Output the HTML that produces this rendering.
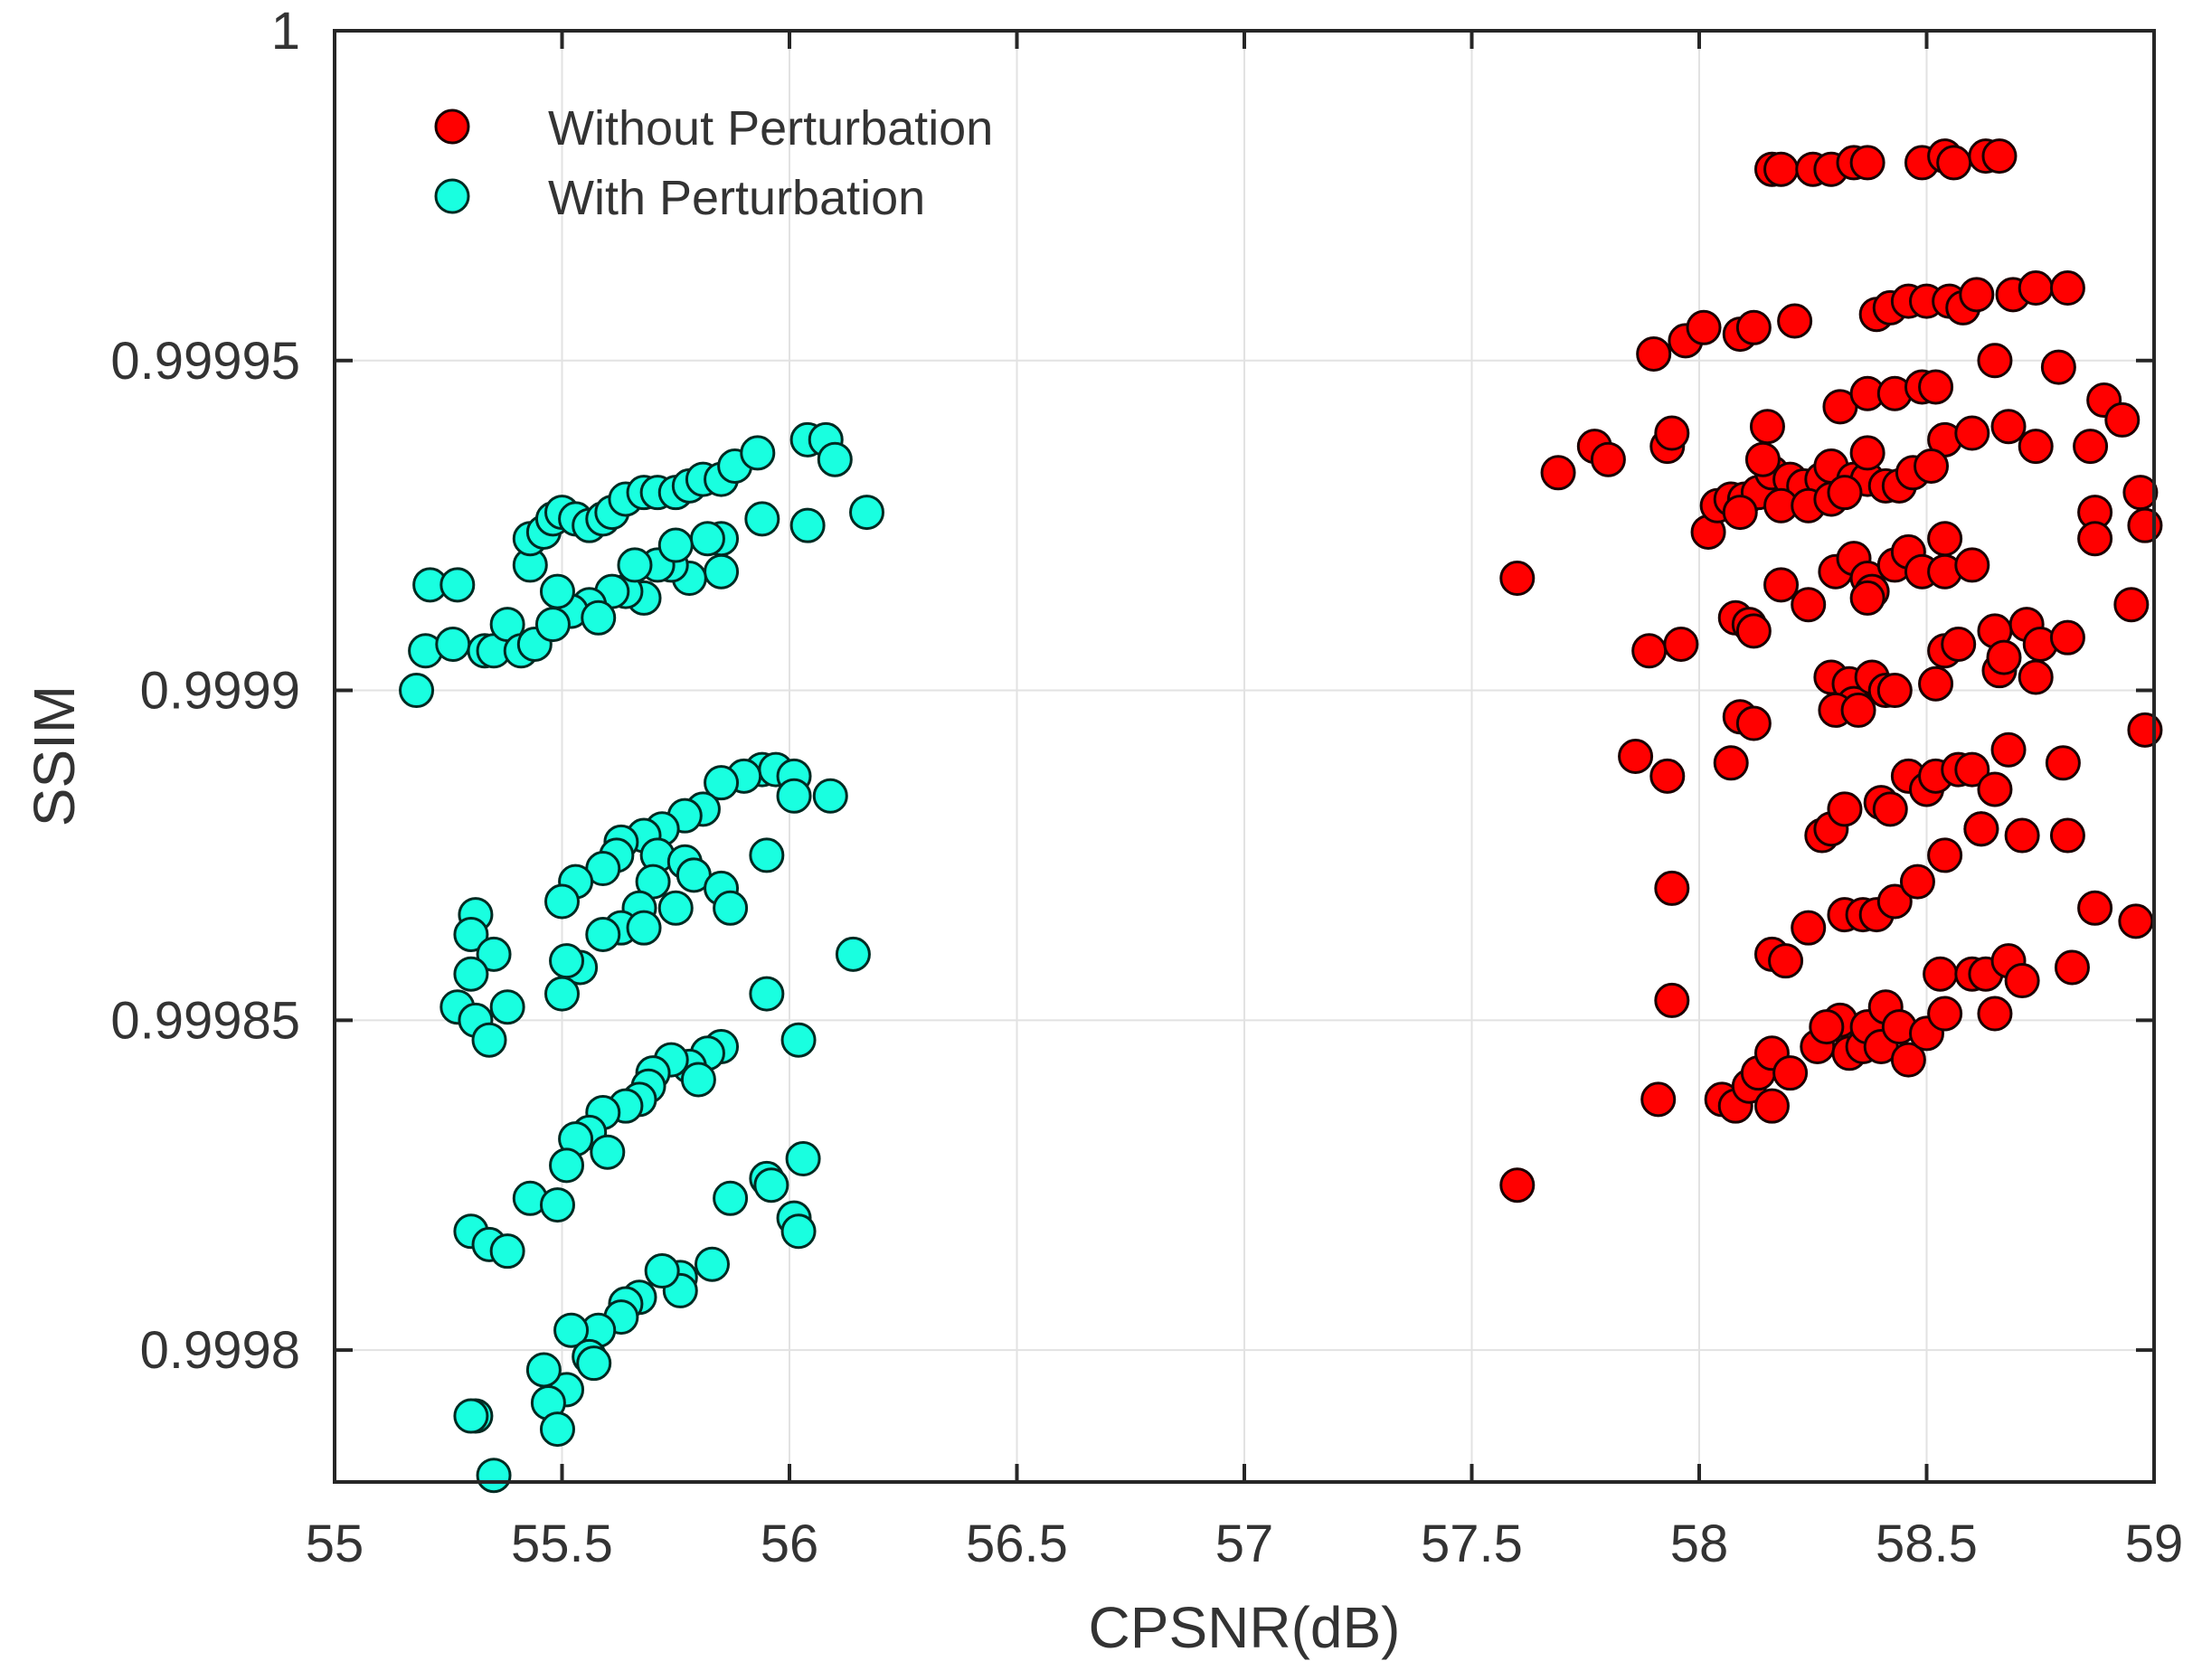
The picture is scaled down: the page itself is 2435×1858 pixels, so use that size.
<!DOCTYPE html>
<html><head><meta charset="utf-8"><style>
html,body{margin:0;padding:0;background:#fff;}
svg{display:block;font-family:"Liberation Sans",Arial,sans-serif;}
</style></head><body>
<svg id="chart" width="2435" height="1858" viewBox="0 0 2435 1858">
<g id="grid"></g>
<g id="ticks"></g>
<g id="pts"></g>
<rect x="370" y="34" width="2012" height="1605" fill="none" stroke="#262626" stroke-width="4"/>
<text x="1376" y="1822" font-size="64" fill="#333" text-anchor="middle">CPSNR(dB)</text>
<text transform="translate(82,836) rotate(-90)" font-size="64" fill="#333" text-anchor="middle">SSIM</text>
<g>
<circle cx="500" cy="140" r="18" fill="#ff0000" stroke="#1a0000" stroke-width="3"/>
<text x="606" y="160" font-size="54" fill="#333">Without Perturbation</text>
<circle cx="500" cy="217" r="18" fill="#19ffe0" stroke="#002a22" stroke-width="3"/>
<text x="606" y="237" font-size="54" fill="#333">With Perturbation</text>
</g>
</svg>
<script>
const xTicks=[55,55.5,56,56.5,57,57.5,58,58.5,59];
const xTickLabels=["55","55.5","56","56.5","57","57.5","58","58.5","59"];
const yTicks=[0.9998,0.99985,0.9999,0.99995,1];
const yTickLabels=["0.9998","0.99985","0.9999","0.99995","1"];
const cyanX=[55.18,55.21,55.27,55.20,55.26,55.33,55.35,55.38,55.41,55.44,55.43,55.43,55.46,55.48,55.50,55.53,55.56,55.59,55.61,55.64,55.68,55.71,55.75,55.78,55.81,55.85,55.88,55.93,56.04,56.08,56.10,56.17,56.04,55.94,55.85,55.82,55.85,55.78,55.74,55.71,55.68,55.64,55.61,55.56,55.52,55.49,55.48,55.58,55.66,55.75,
55.94,55.97,56.01,56.01,56.09,55.90,55.85,55.81,55.77,55.72,55.68,55.63,55.62,55.59,55.53,55.50,55.71,55.77,55.79,55.85,55.87,55.95,55.75,55.70,55.67,55.63,55.59,55.54,55.51,55.50,55.68,55.31,55.30,55.35,55.30,55.27,55.31,55.34,55.38,55.95,56.02,56.14,
55.85,55.82,55.78,55.74,55.70,55.69,55.67,55.64,55.59,55.56,55.53,55.51,55.80,55.60,55.43,55.49,55.30,55.34,55.38,55.87,55.95,55.96,56.03,56.01,56.02,
55.83,55.76,55.76,55.72,55.67,55.64,55.63,55.58,55.52,55.56,55.57,55.51,55.46,55.47,55.49,55.31,55.30,55.35];
const cyanY=[0.999900,0.999916,0.999916,0.999906,0.999907,0.999906,0.999906,0.999910,0.999906,0.999907,0.999919,0.999923,0.999924,0.999926,0.999927,0.999926,0.999925,0.999926,0.999927,0.999929,0.999930,0.999930,0.999930,0.999931,0.999932,0.999932,0.999934,0.999936,0.999938,0.999938,0.999935,0.999927,0.999925,0.999926,0.999923,0.999923,0.999918,0.999917,0.999919,0.999919,0.999914,0.999915,0.999915,0.999913,0.999912,0.999915,0.999910,0.999911,0.999919,0.999922,
0.999888,0.999888,0.999887,0.999884,0.999884,0.999887,0.999886,0.999882,0.999881,0.999879,0.999878,0.999877,0.999875,0.999873,0.999871,0.999868,0.999875,0.999874,0.999872,0.999870,0.999867,0.999875,0.999867,0.999871,0.999867,0.999864,0.999863,0.999858,0.999859,0.999854,0.999864,0.999866,0.999863,0.999860,0.999857,0.999852,0.999850,0.999847,0.999852,0.999854,0.999847,0.999860,
0.999846,0.999845,0.999843,0.999844,0.999842,0.999840,0.999838,0.999837,0.999836,0.999833,0.999832,0.999828,0.999841,0.999830,0.999823,0.999822,0.999818,0.999816,0.999815,0.999823,0.999826,0.999825,0.999829,0.999820,0.999818,
0.999813,0.999811,0.999809,0.999812,0.999808,0.999807,0.999805,0.999803,0.999803,0.999799,0.999798,0.999794,0.999797,0.999792,0.999788,0.999790,0.999790,0.999781];
const redX=[58.16,58.18,58.25,58.29,58.34,58.37,58.49,58.54,58.56,58.63,58.66,
57.90,57.97,58.01,58.09,58.12,58.21,58.39,58.42,58.46,58.50,58.55,58.58,58.61,58.69,58.74,58.81,58.65,58.79,
57.69,57.77,57.80,57.93,57.94,58.15,58.31,58.37,58.43,58.49,58.52,58.54,58.60,58.68,58.74,58.89,58.93,58.86,
58.02,58.04,58.07,58.10,58.13,58.16,58.20,58.23,58.27,58.29,58.34,58.37,58.41,58.44,58.47,58.51,58.18,58.24,58.29,58.32,58.37,58.14,58.09,58.97,58.98,58.87,58.87,
57.60,58.08,58.11,58.12,58.18,58.24,58.30,58.34,58.37,58.38,58.43,58.46,58.49,58.54,58.54,58.60,58.37,58.95,
57.89,57.96,58.09,58.12,58.29,58.33,58.34,58.38,58.41,58.30,58.35,58.43,58.52,58.54,58.57,58.65,58.66,58.72,58.75,58.81,58.74,58.67,58.98,
57.86,57.93,58.07,58.27,58.29,58.32,58.40,58.42,58.46,58.50,58.52,58.57,58.60,58.62,58.65,58.68,58.71,58.80,58.81,
57.94,58.16,58.19,58.24,58.32,58.36,58.39,58.43,58.48,58.54,58.62,58.87,58.96,
57.94,57.91,58.05,58.08,58.11,58.13,58.16,58.20,58.16,58.26,58.31,58.33,58.36,58.37,58.40,58.41,58.44,58.46,58.50,58.54,58.53,58.60,58.63,58.65,58.68,58.71,58.82,58.28,57.60];
const redY=[0.999979,0.999979,0.999979,0.999979,0.999980,0.999980,0.999980,0.999981,0.999980,0.999981,0.999981,
0.999951,0.999953,0.999955,0.999954,0.999955,0.999956,0.999957,0.999958,0.999959,0.999959,0.999959,0.999958,0.999960,0.999960,0.999961,0.999961,0.999950,0.999949,
0.999933,0.999937,0.999935,0.999937,0.999939,0.999940,0.999943,0.999945,0.999945,0.999946,0.999946,0.999938,0.999939,0.999940,0.999937,0.999944,0.999941,0.999937,
0.999924,0.999928,0.999929,0.999929,0.999930,0.999933,0.999932,0.999931,0.999932,0.999934,0.999932,0.999932,0.999931,0.999931,0.999933,0.999934,0.999928,0.999928,0.999929,0.999930,0.999936,0.999935,0.999927,0.999930,0.999925,0.999927,0.999923,
0.999917,0.999911,0.999910,0.999909,0.999916,0.999913,0.999918,0.999920,0.999917,0.999915,0.999919,0.999921,0.999918,0.999923,0.999918,0.999919,0.999914,0.999913,
0.999906,0.999907,0.999896,0.999895,0.999902,0.999901,0.999898,0.999902,0.999900,0.999897,0.999897,0.999900,0.999901,0.999906,0.999907,0.999909,0.999903,0.999910,0.999907,0.999908,0.999902,0.999905,0.999894,
0.999890,0.999887,0.999889,0.999878,0.999879,0.999882,0.999883,0.999882,0.999887,0.999885,0.999887,0.999888,0.999888,0.999879,0.999885,0.999891,0.999878,0.999889,0.999878,
0.999870,0.999860,0.999859,0.999864,0.999866,0.999866,0.999866,0.999868,0.999871,0.999875,0.999879,0.999867,0.999865,
0.999853,0.999838,0.999838,0.999837,0.999840,0.999842,0.999845,0.999842,0.999837,0.999846,0.999850,0.999845,0.999846,0.999849,0.999846,0.999852,0.999849,0.999844,0.999848,0.999851,0.999857,0.999857,0.999857,0.999851,0.999859,0.999856,0.999858,0.999849,0.999825];

const L=370,R=2382,T=34,B=1639,XMIN=55,XMAX=59,YMAX=1,YMIN=0.99978;
function sx(v){return L+(v-XMIN)/(XMAX-XMIN)*(R-L);}
function sy(v){return T+(YMAX-v)/(YMAX-YMIN)*(B-T);}
const NS="http://www.w3.org/2000/svg";
function mk(tag,attrs,parent){const e=document.createElementNS(NS,tag);for(const k in attrs)e.setAttribute(k,attrs[k]);parent.appendChild(e);return e;}
const grid=document.getElementById('grid'),ticks=document.getElementById('ticks'),pts=document.getElementById('pts');
xTicks.forEach((v,i)=>{
  const x=sx(v);
  const g=mk('line',{x1:x,x2:x,y1:T,y2:B,stroke:'#e2e2e2','stroke-width':2},grid);
  
  
  const t=mk('line',{x1:x,x2:x,y1:B,y2:B-20,stroke:'#262626','stroke-width':4},ticks);
  
  
  const t2=mk('line',{x1:x,x2:x,y1:T,y2:T+20,stroke:'#262626','stroke-width':4},ticks);
  
  
  const lb=mk('text',{x:x,y:1727,'font-size':58,fill:'#333','text-anchor':'middle'},ticks);
  lb.textContent=xTickLabels[i];
  
  
});
yTicks.forEach((v,i)=>{
  const y=sy(v);
  const g=mk('line',{x1:L,x2:R,y1:y,y2:y,stroke:'#e2e2e2','stroke-width':2},grid);
  
  
  const t=mk('line',{x1:L,x2:L+20,y1:y,y2:y,stroke:'#262626','stroke-width':4},ticks);
  
  
  const t2=mk('line',{x1:R,x2:R-20,y1:y,y2:y,stroke:'#262626','stroke-width':4},ticks);
  
  
  const lb=mk('text',{x:332,y:y+20,'font-size':58,fill:'#333','text-anchor':'end'},ticks);
  lb.textContent=yTickLabels[i];
  
  
});
cyanX.forEach((v,i)=>{
  const c=mk('circle',{cx:sx(v),cy:sy(cyanY[i]),r:18,fill:'#19ffe0',stroke:'#002a22','stroke-width':3},pts);
  
  
});
redX.forEach((v,i)=>{
  const c=mk('circle',{cx:sx(v),cy:sy(redY[i]),r:18,fill:'#ff0000',stroke:'#1a0000','stroke-width':3},pts);
  
  
});
</script>
</body></html>
